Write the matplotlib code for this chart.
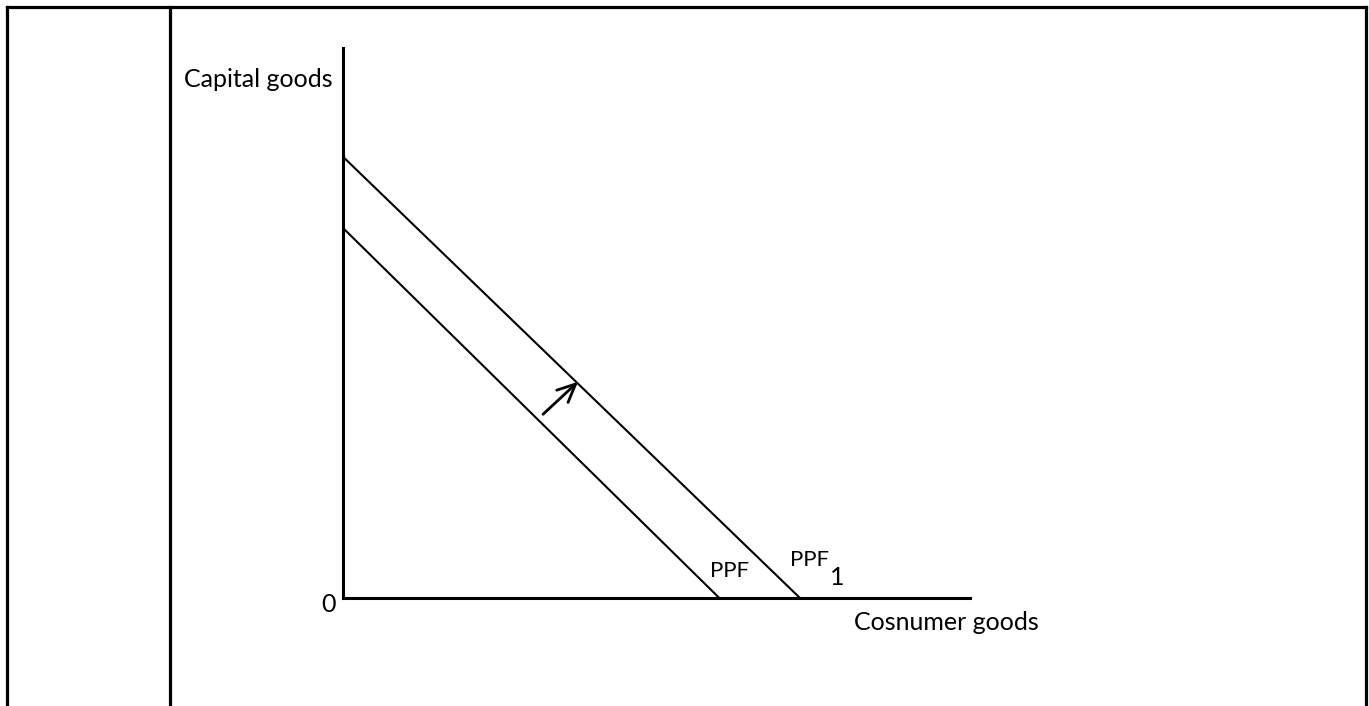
import matplotlib.pyplot as plt
from matplotlib.lines import Line2D

# PPF lines (consumer goods on x, capital goods on y)
ppf_x = [0, 6.02]
ppf_y = [5.92, 0]
ppf1_x = [0, 7.31]
ppf1_y = [7.06, 0]

# outward shift arrow
arrow_tail = (3.2, 2.94)
arrow_head = (3.76, 3.46)

xlabel = "Cosnumer goods"
ylabel = "Capital goods"

W, H = 1369, 706
fig = plt.figure(figsize=(W / 100, H / 100), dpi=100, facecolor='w')
plt.rcParams['font.family'] = ['Lato', 'DejaVu Sans']

# table cell borders
for xs, ys in [([7, 1366], [7, 7]), ([7, 7], [7, 706]), ([1366, 1366], [7, 706]), ([170, 170], [7, 706])]:
    fig.add_artist(Line2D([x / W for x in xs], [1 - y / H for y in ys], color='k', lw=2.3))

ax = fig.add_axes([343 / W, (H - 598) / H, 627 / W, 550 / H])
ax.set_xlim(0, 10.03)
ax.set_ylim(0, 8.8)
for s in ['top', 'right']:
    ax.spines[s].set_visible(False)
for s in ['left', 'bottom']:
    ax.spines[s].set_linewidth(2.2)
ax.set_xticks([])
ax.set_yticks([])
ax.patch.set_alpha(0)

ax.plot(ppf_x, ppf_y, color='k', lw=1.5, solid_capstyle='butt')
ax.plot(ppf1_x, ppf1_y, color='k', lw=1.5, solid_capstyle='butt')

ax.annotate('', xy=arrow_head, xytext=arrow_tail,
            arrowprops=dict(arrowstyle='->,head_length=1.3,head_width=0.6', color='k', lw=2,
                            shrinkA=0, shrinkB=0))

fs = 18
ax.text(-0.16, 8.3, ylabel, ha='right', va='center', fontsize=fs)
ax.text(8.18, -0.4, xlabel, ha='left', va='center', fontsize=fs)
ax.text(-0.12, -0.1, '0', ha='right', va='center', fontsize=fs)
ax.text(ppf_x[1] - 0.15, 0.43, 'PPF', ha='left', va='center', fontsize=16)
ax.text(ppf1_x[1] - 0.16, 0.6, 'PPF', ha='left', va='center', fontsize=16)
ax.text(ppf1_x[1] + 0.48, 0.33, '1', ha='left', va='center', fontsize=18)

fig.savefig('out.png', dpi=100, facecolor='w')
